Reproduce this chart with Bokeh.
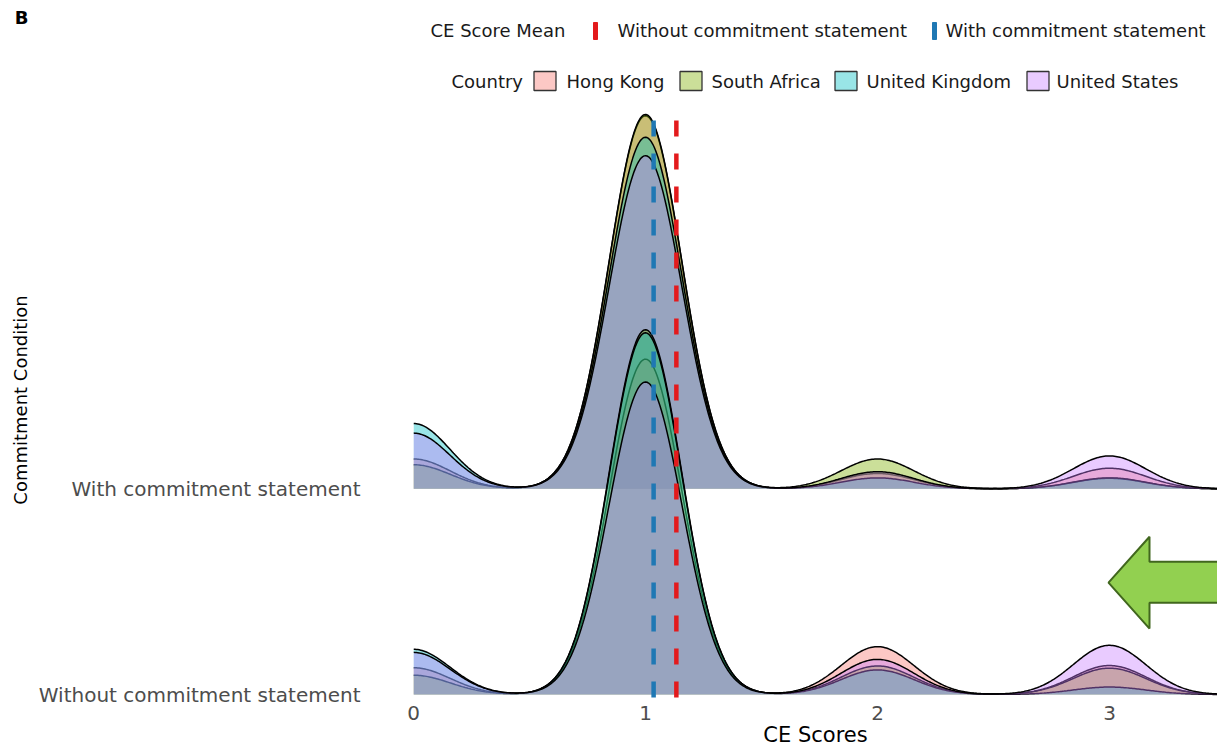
import numpy as np
from bokeh.plotting import figure
from bokeh.layouts import column
from bokeh.models import Range1d, FixedTicker
from bokeh.core.properties import value
from bokeh.embed import file_html
from bokeh.resources import INLINE

# ---------------- data ----------------
countries = ["Hong Kong", "South Africa", "United Kingdom", "United States"]
country_colors = ["#F8766D", "#7CAE00", "#00BFC4", "#C77CFF"]
scores = [0, 1, 2, 3]
conditions = ["Without commitment statement", "With commitment statement"]
x_ticks = [0, 1, 2, 3]
panel_tag = "B"

# share of respondents (%) at CE score 0, 1, 2, 3
with_hk = [6.8, 85.0, 3.5, 4.7]
with_sa = [5.5, 85.3, 6.8, 2.4]
with_uk = [14.9, 80.1, 2.5, 2.5]
with_us = [12.7, 75.9, 3.9, 7.5]
without_hk = [6.1, 76.4, 10.9, 6.6]
without_sa = [4.4, 83.1, 6.5, 6.0]
without_uk = [10.3, 82.4, 5.6, 1.7]
without_us = [9.6, 71.2, 8.0, 11.2]

mean_without = 1.133
mean_with = 1.035

# ---------------- layout constants ----------------
W = 1217
TOP_H = 100          # legend strip height
MAIN_H = 749 - TOP_H
FRAME_LEFT = 413
FRAME_BOTTOM = 700   # page px
PX_X, PX_Y = 232.0, 206.0
ROW0 = 695.0         # page px of the lower ridge baseline
BW = 0.157
RIDGE_SCALE = 0.84
FILL_ALPHA = 0.4
FONT = "DejaVu Sans"
TXT = "#1a1a1a"


def dx(px):
    return (px - FRAME_LEFT) / PX_X


def dy(py):
    return (ROW0 - py) / PX_Y


# ---------------- legend strip (coordinates = page pixels) ----------------
top = figure(width=W, height=TOP_H, output_backend="svg", toolbar_location=None,
             x_range=Range1d(FRAME_LEFT, W), y_range=Range1d(TOP_H, 0),
             x_axis_location=None, min_border=0, min_border_left=FRAME_LEFT)
top.outline_line_color = None
top.xgrid.visible = False
top.ygrid.visible = False
top.yaxis.ticker = FixedTicker(ticks=[17])
top.yaxis.major_label_overrides = {17: panel_tag}
top.yaxis.axis_line_color = None
top.yaxis.major_tick_line_color = None
top.yaxis.minor_tick_line_color = None
top.yaxis.major_label_text_font = FONT
top.yaxis.major_label_text_font_size = "18px"
top.yaxis.major_label_text_font_style = "bold"
top.yaxis.major_label_text_color = "black"
top.yaxis.major_label_standoff = FRAME_LEFT - 34

leg_font = "18px"
top.text(x=[430, 617, 945], y=[30, 30, 30],
         text=["CE Score Mean", conditions[0], conditions[1]],
         text_font=value(FONT), text_font_size=leg_font, text_baseline="middle",
         text_align="left", text_color=TXT)
top.rect(x=[595, 934], y=[30.5, 30.5], width=4, height=17, color=["#E31A1C", "#1F78B4"])

top.text(x=[451], y=[81], text=["Country"], text_font=value(FONT), text_font_size=leg_font,
         text_baseline="middle", text_align="left", text_color=TXT)
box_x = [544.5, 690.5, 845.5, 1037.5]
txt_x = [566, 711, 866, 1056]
top.rect(x=box_x, y=[80.5] * 4, width=22, height=19, fill_color=country_colors,
         fill_alpha=FILL_ALPHA, line_color="#333333", line_width=1.3)
top.text(x=txt_x, y=[81] * 4, text=countries, text_font=value(FONT),
         text_font_size=leg_font, text_baseline="middle", text_align="left", text_color=TXT)

# ---------------- ridgeline panel ----------------
x_end = (W - FRAME_LEFT) / PX_X
p = figure(width=W, height=MAIN_H, output_backend="svg", toolbar_location=None,
           x_range=Range1d(0, x_end), y_range=Range1d(dy(FRAME_BOTTOM), dy(TOP_H)),
           min_border_left=FRAME_LEFT, min_border_right=0, min_border_top=0,
           min_border_bottom=749 - FRAME_BOTTOM)
p.outline_line_color = None
p.xgrid.visible = False
p.ygrid.visible = False

xs = np.linspace(0, 3.7, 600)


def density(pcts):
    pr = np.array(pcts, dtype=float)
    pr = pr / pr.sum()
    d = np.zeros_like(xs)
    for pk, k in zip(pr, scores):
        d += pk * np.exp(-0.5 * ((xs - k) / BW) ** 2)
    return d / (BW * np.sqrt(2 * np.pi)) * RIDGE_SCALE


rows = [
    (1, [with_hk, with_sa, with_uk, with_us]),
    (0, [without_hk, without_sa, without_uk, without_us]),
]
for base, series in rows:
    for pcts, col in zip(series, country_colors):
        h = density(pcts)
        p.varea(x=xs, y1=np.full_like(xs, base), y2=base + h,
                fill_color=col, fill_alpha=FILL_ALPHA)
        p.line(xs, base + h, line_color="black", line_width=1.5)

# mean lines
line_top = dy(115)
line_bot = dy(698)
p.segment(x0=[mean_without], y0=[line_bot], x1=[mean_without], y1=[line_top],
          line_color="#E31A1C", line_width=4.5, line_dash="16 17")
p.segment(x0=[mean_with], y0=[line_bot], x1=[mean_with], y1=[line_top],
          line_color="#1F78B4", line_width=4.5, line_dash="16 17")

# arrow annotation
ax = [dx(1108), dx(1149), dx(1149), dx(1250), dx(1250), dx(1149), dx(1149)]
ay = [dy(583), dy(537), dy(562), dy(562), dy(603), dy(603), dy(629)]
p.patch(ax, ay, fill_color="#92D050", line_color="#41671E", line_width=2)

# axes
p.xaxis.ticker = FixedTicker(ticks=x_ticks)
p.xaxis.axis_line_color = None
p.xaxis.major_tick_line_color = None
p.xaxis.minor_tick_line_color = None
p.xaxis.major_label_text_font = FONT
p.xaxis.major_label_text_font_size = "20px"
p.xaxis.major_label_text_color = "#4D4D4D"
p.xaxis.major_label_standoff = 0
p.xaxis.axis_label = "CE Scores"
p.xaxis.axis_label_text_font = FONT
p.xaxis.axis_label_text_font_size = "21px"
p.xaxis.axis_label_text_font_style = "normal"
p.xaxis.axis_label_text_color = "black"
p.xaxis.axis_label_standoff = 0

p.yaxis.ticker = FixedTicker(ticks=[0, 1])
p.yaxis.major_label_overrides = {0: conditions[0], 1: conditions[1]}
p.yaxis.axis_line_color = None
p.yaxis.major_tick_line_color = None
p.yaxis.minor_tick_line_color = None
p.yaxis.major_label_text_font = FONT
p.yaxis.major_label_text_font_size = "20px"
p.yaxis.major_label_text_color = "#4D4D4D"
p.yaxis.major_label_standoff = 47
p.yaxis.axis_label = "Commitment Condition"
p.yaxis.axis_label_text_font = FONT
p.yaxis.axis_label_text_font_size = "18px"
p.yaxis.axis_label_text_font_style = "normal"
p.yaxis.axis_label_text_color = "black"
p.yaxis.axis_label_standoff = 5

layout = column(top, p, spacing=0)
open("out.html", "w").write(file_html(layout, INLINE))
